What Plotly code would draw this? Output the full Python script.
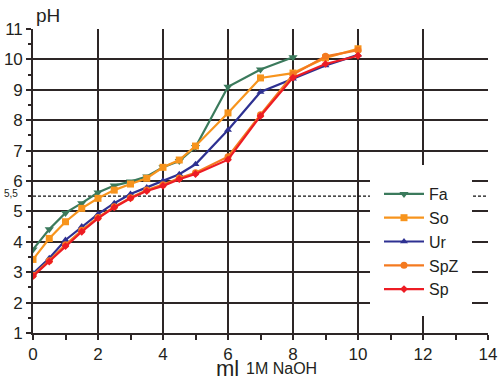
import plotly.graph_objects as go

x_full = [0, 0.5, 1, 1.5, 2, 2.5, 3, 3.5, 4, 4.5, 5, 6, 7, 8, 9, 10]
x_fa = [0, 0.5, 1, 1.5, 2, 2.5, 3, 3.5, 4, 4.5, 5, 6, 7, 8]

ph_fa = [3.75, 4.41, 4.95, 5.27, 5.62, 5.85, 5.98, 6.15, 6.45, 6.66, 7.12, 9.1, 9.67, 10.07]
ph_so = [3.42, 4.11, 4.66, 5.1, 5.43, 5.7, 5.9, 6.09, 6.45, 6.69, 7.15, 8.24, 9.39, 9.55, 10.05, 10.35]
ph_ur = [2.96, 3.46, 4.06, 4.5, 4.91, 5.27, 5.57, 5.79, 6.01, 6.22, 6.55, 7.68, 8.93, 9.36, 9.8, 10.15]
ph_spz = [2.9, 3.38, 3.9, 4.38, 4.8, 5.15, 5.45, 5.7, 5.88, 6.1, 6.27, 6.8, 8.18, 9.5, 10.1, 10.3]
ph_sp = [2.87, 3.35, 3.86, 4.33, 4.77, 5.13, 5.43, 5.67, 5.84, 6.06, 6.23, 6.7, 8.14, 9.4, 9.85, 10.12]

x_ticks = [0, 2, 4, 6, 8, 10, 12, 14]
y_ticks = [1, 2, 3, 4, 5, 6, 7, 8, 9, 10, 11]
ref_ph = 5.5

series = [
    ("Fa", x_fa, ph_fa, "#3b7a5c", "triangle-down", 8),
    ("So", x_full, ph_so, "#f7941d", "square", 7),
    ("Ur", x_full, ph_ur, "#2e3192", "triangle-up", 7),
    ("SpZ", x_full, ph_spz, "#f47a20", "circle", 7),
    ("Sp", x_full, ph_sp, "#ed1c24", "diamond", 6),
]

fig = go.Figure()
for name, xs, ys, col, sym, sz in series:
    fig.add_trace(go.Scatter(
        x=xs, y=ys, name=name, mode="lines+markers",
        line=dict(color=col, width=2.2),
        marker=dict(symbol=sym, size=sz, color=col),
    ))

axis_col = "#2d2626"
font_fam = "Liberation Sans, Arial, sans-serif"

fig.add_shape(type="line", xref="x", yref="y", x0=0, x1=14, y0=ref_ph, y1=ref_ph,
              line=dict(color="#111", width=1.3, dash="3px,2px"), layer="between")
fig.add_shape(type="rect", xref="paper", yref="paper",
              x0=(370 - 33) / 455, x1=(472 - 33) / 455,
              y0=(333 - 316) / 304, y1=(333 - 165) / 304,
              fillcolor="white", line=dict(width=0), layer="above")

fig.update_layout(
    width=500, height=379,
    margin=dict(l=33, r=12, t=29, b=46, autoexpand=False),
    paper_bgcolor="white", plot_bgcolor="white",
    font=dict(family=font_fam, color="#231f20"),
    showlegend=True,
    legend=dict(
        x=(379 - 33) / 455, y=(333 - 177) / 304, xanchor="left", yanchor="top",
        bgcolor="rgba(0,0,0,0)", font=dict(size=16, color="#231f20"),
        tracegroupgap=0, itemwidth=40,
    ),
    xaxis=dict(
        range=[0, 14], tickvals=x_ticks, ticktext=[str(v) for v in x_ticks],
        showgrid=True, gridcolor=axis_col, gridwidth=1.6, automargin=False,
        showline=True, linecolor=axis_col, linewidth=1.6, mirror=False,
        ticks="outside", ticklen=5, tickcolor=axis_col, tickwidth=1.5,
        tickfont=dict(size=17), zeroline=False,
        minor=dict(dtick=1, ticks="outside", ticklen=5, tickcolor=axis_col, showgrid=False),
    ),
    yaxis=dict(
        range=[1, 11], tickvals=y_ticks, ticktext=[str(v) for v in y_ticks],
        showgrid=True, gridcolor=axis_col, gridwidth=1.6, automargin=False,
        showline=True, linecolor=axis_col, linewidth=1.6,
        ticks="outside", ticklen=5, tickcolor=axis_col, tickwidth=1.5,
        tickfont=dict(size=17), zeroline=False,
        minor=dict(dtick=0.5, ticks="outside", ticklen=3, tickcolor=axis_col, showgrid=False),
    ),
)

fig.add_annotation(text="pH", xref="paper", yref="paper", x=(34 - 33) / 455, y=(333 - 3) / 304,
                   xanchor="left", yanchor="top", showarrow=False, font=dict(size=19))
fig.add_annotation(text="ml", xref="paper", yref="paper",
                   x=(215 - 33) / 455, y=-(355 - 333) / 304, xanchor="left", yanchor="top",
                   showarrow=False, font=dict(size=22), borderpad=0)
fig.add_annotation(text="1M NaOH", xref="paper", yref="paper",
                   x=(245 - 33) / 455, y=-(359 - 333) / 304, xanchor="left", yanchor="top",
                   showarrow=False, font=dict(size=16), borderpad=0)
fig.add_annotation(text="5,5", xref="paper", yref="y", x=-(31) / 455, y=ref_ph,
                   xanchor="left", yanchor="bottom", showarrow=False, font=dict(size=10), yshift=-5)

fig.write_html("out.html", config={"displayModeBar": False},
               post_script="document.body.style.margin='0';document.body.style.overflow='hidden';")
